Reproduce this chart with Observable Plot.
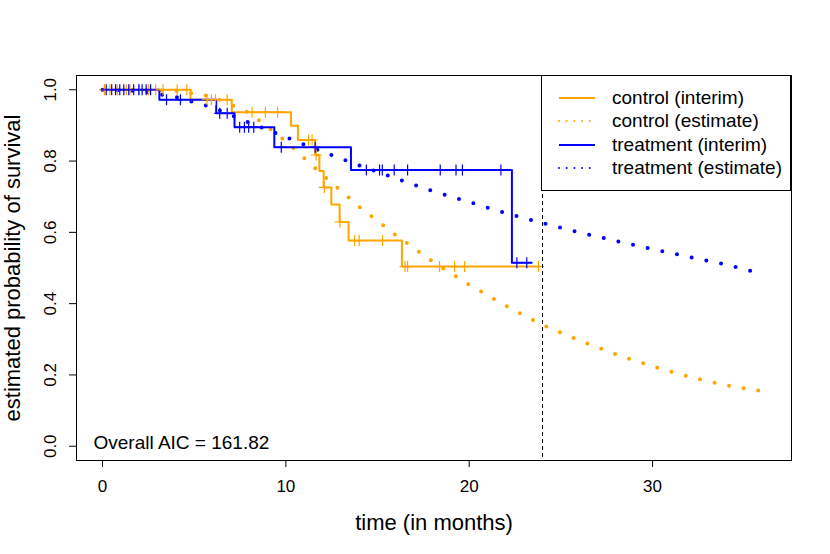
<!DOCTYPE html>
<html>
<head>
<meta charset="utf-8">
<script src="https://cdn.jsdelivr.net/npm/d3@7"></script>
<script src="https://cdn.jsdelivr.net/npm/@observablehq/plot@0.6"></script>
<style>
  body { margin: 0; background: #fff; font-family: "Liberation Sans", Arial, Helvetica, sans-serif; }
  #wrap { position: relative; width: 830px; height: 554px; }
  #legend { position: absolute; left: 541px; top: 75px; width: 250px; height: 116px; border: 1px solid #000; background: #fff; box-sizing: border-box; }
  #legend .row { position: absolute; left: 0; height: 20px; display: flex; align-items: center; font-size: 19px; color: #000; white-space: nowrap; }
  #legend svg { margin-left: 16px; margin-right: 16px; }
</style>
</head>
<body>
<div id="wrap"><div id="legend"></div></div>
<script>
// ---- data ----
const ctrlStepTime = [0, 4.8, 7.05, 10.28, 10.66, 11.6, 11.83, 12.06, 12.48, 12.93, 13.42, 16.33, 23.78];
const ctrlStepSurv = [1, 0.972, 0.937, 0.899, 0.859, 0.817, 0.772, 0.726, 0.678, 0.629, 0.577, 0.504, 0.504];
const trtStepTime = [0, 3.1, 6.2, 7.2, 9.37, 13.55, 22.33, 23.4];
const trtStepSurv = [1, 0.972, 0.934, 0.895, 0.839, 0.775, 0.515, 0.515];

const ctrlCensorTime = [0.1, 0.4, 0.8, 1.3, 1.5, 2.0, 2.5, 2.9, 3.3, 4.07, 4.6,
  5.7, 5.94, 6.16, 6.8, 8.16, 8.88, 9.55, 11.24, 11.43, 11.65, 12.1, 12.95,
  13.75, 14.0, 15.28, 16.5, 16.64, 18.38, 19.2, 19.75, 23.78];
const trtCensorTime = [0.2, 0.5, 0.71, 0.94, 1.16, 1.43, 1.7, 1.98, 2.16, 2.38, 2.62,
  3.49, 4.25, 6.39, 6.8, 7.48, 7.74, 7.97, 8.25, 9.75, 11.6,
  14.39, 15.11, 15.26, 15.91, 16.64, 18.42, 19.28, 19.63, 21.73, 22.6, 23.14];

const estTime = [0, 2, 4, 6, 8, 10, 12, 14, 16, 18, 20, 22, 24, 26, 28, 30, 32, 34, 36];
const ctrlEstSurv = [1.0, 1.0, 0.997, 0.981, 0.935, 0.856, 0.761, 0.672, 0.592, 0.518, 0.453, 0.394, 0.34, 0.297, 0.258, 0.224, 0.195, 0.171, 0.154];
const trtEstSurv = [1.0, 0.997, 0.98, 0.95, 0.908, 0.867, 0.826, 0.788, 0.751, 0.716, 0.685, 0.654, 0.626, 0.60, 0.576, 0.553, 0.531, 0.51, 0.483];

const xTicks = [0, 10, 20, 30];
const yTicks = [0, 0.2, 0.4, 0.6, 0.8, 1.0];
const interimCut = [24];
const aicLabel = "Overall AIC = 161.82";
const xTitle = "time (in months)";
const yTitle = "estimated probability of survival";

const seriesNames = ["control (interim)", "control (estimate)", "treatment (interim)", "treatment (estimate)"];
const ORANGE = "#FFA500", BLUE = "#0000FF";

// ---- build tables ----
const zip = (t, s) => t.map((d, i) => ({t: d, s: s[i]}));
const stepAt = (times, survs, t) => survs[Math.max(0, d3.bisectRight(times, t) - 1)];
const ctrlStep = zip(ctrlStepTime, ctrlStepSurv);
const trtStep = zip(trtStepTime, trtStepSurv);
const ctrlEst = zip(estTime, ctrlEstSurv);
const trtEst = zip(estTime, trtEstSurv);
const ctrlCens = ctrlCensorTime.map(t => ({t, s: stepAt(ctrlStepTime, ctrlStepSurv, t)}));
const trtCens = trtCensorTime.map(t => ({t, s: stepAt(trtStepTime, trtStepSurv, t)}));

const plus = {draw(ctx) { const h = 5.5; ctx.moveTo(0, -h); ctx.lineTo(0, h); ctx.moveTo(-h, 0); ctx.lineTo(h, 0); }};

const chart = Plot.plot({
  width: 830, height: 554,
  marginLeft: 76, marginRight: 39, marginTop: 75, marginBottom: 94,
  style: {fontFamily: '"Liberation Sans", Arial, Helvetica, sans-serif', color: "#000", background: "#fff"},
  x: {domain: [-1.42, 37.58]},
  y: {domain: [-0.04, 1.04]},
  marks: [
    Plot.line(ctrlEst, {x: "t", y: "s", stroke: ORANGE, strokeWidth: 4, strokeLinecap: "round", strokeDasharray: "0 14.8"}),
    Plot.line(trtEst, {x: "t", y: "s", stroke: BLUE, strokeWidth: 4, strokeLinecap: "round", strokeDasharray: "0 15"}),
    Plot.line(ctrlStep, {x: "t", y: "s", curve: "step-after", stroke: ORANGE, strokeWidth: 2}),
    Plot.line(trtStep, {x: "t", y: "s", curve: "step-after", stroke: BLUE, strokeWidth: 2}),
    Plot.dot(ctrlCens, {x: "t", y: "s", symbol: plus, stroke: ORANGE, fill: "none", strokeWidth: 1.2}),
    Plot.dot(trtCens, {x: "t", y: "s", symbol: plus, stroke: BLUE, fill: "none", strokeWidth: 1.2}),
    Plot.ruleX(interimCut, {stroke: "#000", strokeWidth: 1, strokeDasharray: "4,3"}),
    Plot.frame({stroke: "#000", strokeWidth: 1}),
    Plot.axisX({ticks: xTicks, tickSize: 7, tickPadding: 12, fontSize: 17, label: null}),
    Plot.axisY({ticks: yTicks, tickFormat: d3.format(".1f"), tickSize: 7, tickPadding: 14, fontSize: 17,
      tickRotate: -90, textAnchor: "middle", lineAnchor: "bottom", label: null}),
    Plot.text([aicLabel], {frameAnchor: "bottom-left", dx: 17, dy: -18, textAnchor: "start", lineAnchor: "middle", fontSize: 19, fill: "#000"}),
    Plot.text([xTitle], {frameAnchor: "bottom", dy: 62, textAnchor: "middle", lineAnchor: "middle", fontSize: 22, fill: "#000"}),
    Plot.text([yTitle], {frameAnchor: "left", dx: -64, rotate: -90, textAnchor: "middle", lineAnchor: "middle", fontSize: 22, fill: "#000"})
  ]
});
document.getElementById("wrap").prepend(chart);

// ---- legend ----
const legend = document.getElementById("legend");
const legendItems = [
  {name: seriesNames[0], color: ORANGE, dash: null},
  {name: seriesNames[1], color: ORANGE, dash: "0 7.7"},
  {name: seriesNames[2], color: BLUE, dash: null},
  {name: seriesNames[3], color: BLUE, dash: "0 7.7"}
];
const rowTops = [12, 35, 59, 82];
legendItems.forEach((d, i) => {
  const row = document.createElement("div");
  row.className = "row";
  row.style.top = rowTops[i] + "px";
  const svg = d3.create("svg").attr("width", 38).attr("height", 10);
  const line = svg.append("line").attr("x1", 1).attr("x2", 37).attr("y1", 5).attr("y2", 5)
    .attr("stroke", d.color).attr("stroke-width", 2);
  if (d.dash) line.attr("stroke-dasharray", d.dash).attr("stroke-linecap", "round");
  row.appendChild(svg.node());
  const span = document.createElement("span");
  span.textContent = d.name;
  row.appendChild(span);
  legend.appendChild(row);
});
</script>
</body>
</html>
